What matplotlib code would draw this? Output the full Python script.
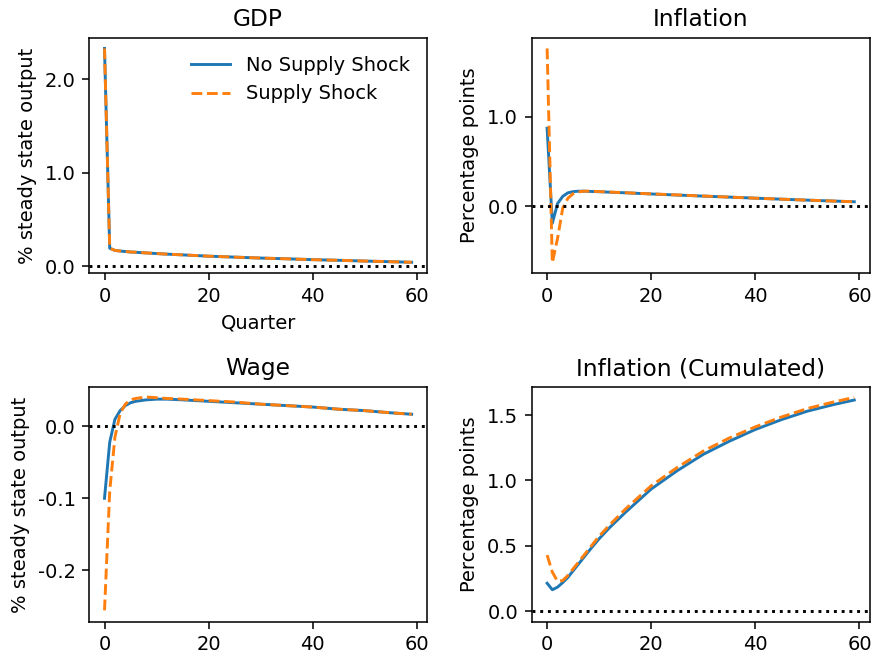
import matplotlib
matplotlib.use('Agg')
import matplotlib.pyplot as plt
from matplotlib.ticker import FormatStrFormatter

quarter = [0, 1, 2, 3, 4, 5, 6, 7, 8, 10, 12, 15, 20, 25, 30, 35, 40, 45, 50, 55, 59]

gdp_no = [2.33, 0.195, 0.172, 0.165, 0.16, 0.155, 0.152, 0.148, 0.145, 0.138, 0.132,
          0.124, 0.11, 0.1, 0.09, 0.082, 0.073, 0.066, 0.058, 0.051, 0.045]
gdp_sup = [2.33, 0.195, 0.172, 0.165, 0.16, 0.155, 0.152, 0.148, 0.145, 0.138, 0.132,
           0.124, 0.11, 0.1, 0.09, 0.082, 0.073, 0.066, 0.058, 0.051, 0.045]

infl_no = [0.87, -0.19, 0.03, 0.11, 0.15, 0.163, 0.168, 0.168, 0.166, 0.162, 0.157,
           0.15, 0.137, 0.125, 0.113, 0.102, 0.09, 0.079, 0.068, 0.058, 0.05]
infl_sup = [1.76, -0.63, -0.36, -0.02, 0.09, 0.14, 0.16, 0.168, 0.168, 0.164, 0.158,
            0.151, 0.138, 0.126, 0.114, 0.102, 0.09, 0.079, 0.068, 0.058, 0.05]

wage_no = [-0.10, -0.022, 0.01, 0.022, 0.029, 0.033, 0.035, 0.036, 0.037, 0.038, 0.038,
           0.037, 0.035, 0.033, 0.031, 0.029, 0.027, 0.024, 0.022, 0.019, 0.017]
wage_sup = [-0.256, -0.09, -0.015, 0.018, 0.031, 0.037, 0.039, 0.040, 0.041, 0.040, 0.039,
            0.038, 0.036, 0.034, 0.031, 0.029, 0.027, 0.024, 0.022, 0.019, 0.017]

cum_no = [0.215, 0.165, 0.185, 0.22, 0.26, 0.31, 0.36, 0.41, 0.46, 0.555, 0.64,
          0.755, 0.935, 1.075, 1.2, 1.3, 1.39, 1.465, 1.53, 1.58, 1.615]
cum_sup = [0.43, 0.30, 0.23, 0.235, 0.275, 0.325, 0.375, 0.425, 0.475, 0.575, 0.66,
           0.78, 0.96, 1.1, 1.225, 1.325, 1.41, 1.485, 1.55, 1.6, 1.635]

panels = [
    ('GDP', gdp_no, gdp_sup, '% steady state output', [0.0, 1.0, 2.0], (-0.07, 2.44)),
    ('Inflation', infl_no, infl_sup, 'Percentage points', [0.0, 1.0], (-0.745, 1.875)),
    ('Wage', wage_no, wage_sup, '% steady state output', [-0.2, -0.1, 0.0], (-0.272, 0.055)),
    ('Inflation (Cumulated)', cum_no, cum_sup, 'Percentage points', [0.0, 0.5, 1.0, 1.5], (-0.08, 1.715)),
]

fig, axes = plt.subplots(2, 2, figsize=(874 / 140, 658 / 140), dpi=140)
plt.subplots_adjust(left=0.102, right=0.995, top=0.942, bottom=0.055, wspace=0.31, hspace=0.485)

for ax, (title, no, sup, ylab, yticks, ylim) in zip(axes.flat, panels):
    ax.plot(quarter, no, color='#1f77b4', label='No Supply Shock')
    ax.plot(quarter, sup, color='#ff7f0e', linestyle='--', label='Supply Shock')
    ax.axhline(0, color='black', linestyle=':', linewidth=1.5)
    ax.set_title(title)
    ax.set_ylabel(ylab)
    ax.set_yticks(yticks)
    ax.yaxis.set_major_formatter(FormatStrFormatter('%.1f'))
    ax.set_ylim(ylim)
    ax.set_xlim(-2.95, 61.95)
    ax.set_xticks([0, 20, 40, 60])

axes[0, 0].set_xlabel('Quarter')
axes[0, 0].legend(loc='upper right', frameon=False)

plt.savefig('out.png', dpi=140)
